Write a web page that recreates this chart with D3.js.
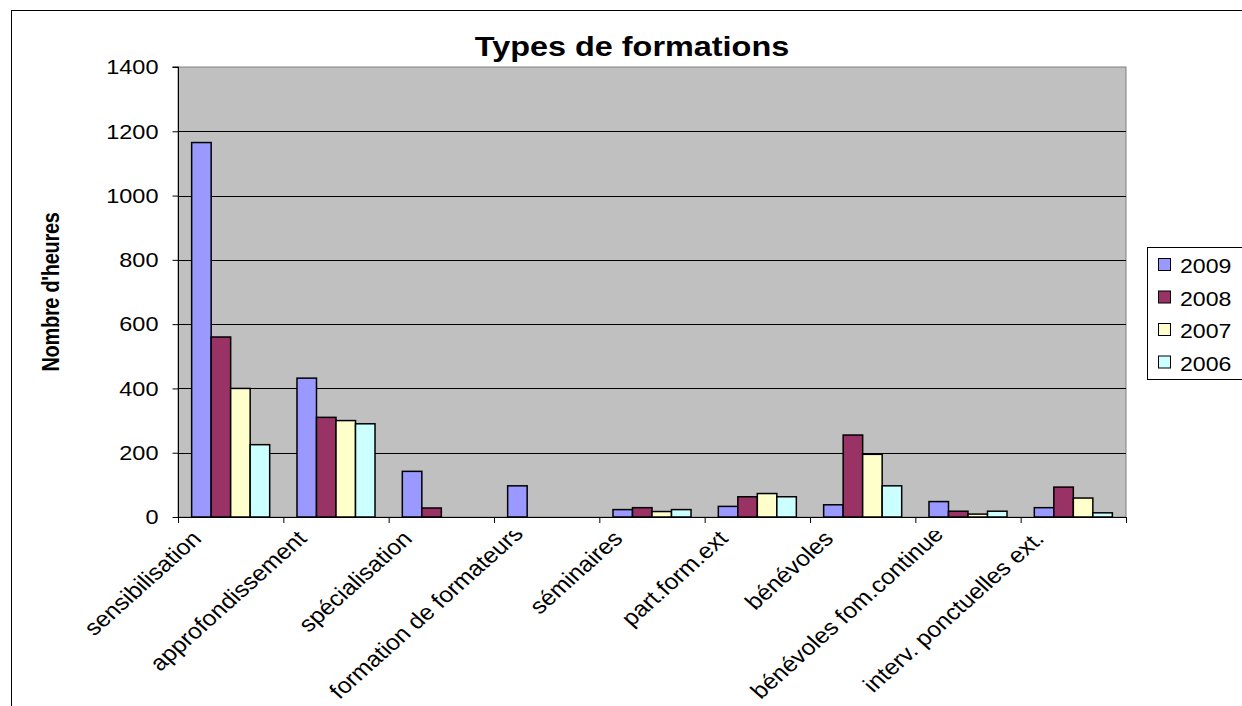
<!DOCTYPE html>
<html>
<head>
<meta charset="utf-8">
<script src="https://cdn.jsdelivr.net/npm/d3@7"></script>
<style>
  html, body { margin: 0; padding: 0; background: #fff; }
  svg text { font-family: Arial, "Liberation Sans", sans-serif; fill: #000; }
</style>
</head>
<body>
<svg id="chart" width="1242" height="706"></svg>
<script>
// Heures de formation par type et par année
const categories = ["sensibilisation", "approfondissement", "spécialisation", "formation de formateurs",
  "séminaires", "part.form.ext", "bénévoles", "bénévoles fom.continue", "interv. ponctuelles ext."];
const years = ["2009", "2008", "2007", "2006"];
const values2009 = [1165, 432, 142, 97, 23, 33, 38, 48, 29];
const values2008 = [560, 310, 28, 0, 29, 63, 255, 18, 93];
const values2007 = [400, 300, 0, 0, 17, 73, 195, 9, 59];
const values2006 = [225, 290, 0, 0, 23, 63, 97, 18, 13];
const yTicks = [0, 200, 400, 600, 800, 1000, 1200, 1400];
const colors = ["#9999FF", "#993366", "#FFFFCC", "#CCFFFF"];

const series = [values2009, values2008, values2007, values2006];
const rows = categories.map((c, i) => ({ cat: c, vals: series.map(s => s[i]) }));

const svg = d3.select("#chart");
const plot = { left: 178, right: 1126, top: 67, bottom: 517 };
const sx = 1.12; // horizontal text stretch

// chart frame
svg.append("rect").attr("x", 11.5).attr("y", 10.5).attr("width", 1240).attr("height", 720)
  .attr("fill", "#fff").attr("stroke", "#000").attr("stroke-width", 1);

const x = d3.scaleBand().domain(categories).range([plot.left, plot.right]).paddingInner(0).paddingOuter(0);
const xs = d3.scaleBand().domain(years).range([0, x.bandwidth()]).paddingInner(0).paddingOuter(0.7);
const y = d3.scaleLinear().domain([0, 1400]).range([plot.bottom, plot.top]);

// plot background
svg.append("rect").attr("x", plot.left).attr("y", plot.top)
  .attr("width", plot.right - plot.left).attr("height", plot.bottom - plot.top)
  .attr("fill", "#C0C0C0").attr("stroke", "#808080").attr("stroke-width", 1);

// gridlines
svg.append("g").selectAll("line").data(yTicks.filter(t => t > 0 && t < 1400)).join("line")
  .attr("x1", plot.left).attr("x2", plot.right)
  .attr("y1", d => Math.round(y(d)) + 0.5).attr("y2", d => Math.round(y(d)) + 0.5)
  .attr("stroke", "#000").attr("stroke-width", 1);

// bars
const groups = svg.append("g").selectAll("g").data(rows).join("g")
  .attr("transform", d => `translate(${x(d.cat)},0)`);
groups.selectAll("rect").data(d => d.vals.map((v, i) => ({ v, year: years[i], i })).filter(e => e.v > 0))
  .join("rect")
  .attr("x", d => xs(d.year))
  .attr("y", d => y(d.v))
  .attr("width", xs.bandwidth())
  .attr("height", d => y(0) - y(d.v))
  .attr("fill", d => colors[d.i])
  .attr("stroke", "#000").attr("stroke-width", 1.5);

// y axis
const yAxis = d3.axisLeft(y).tickValues(yTicks).tickSize(6).tickPadding(14).tickFormat(d3.format("d"));
const yg = svg.append("g").attr("transform", `translate(${plot.left + 0.5},0)`).call(yAxis);
yg.select(".domain").attr("stroke", "#000").attr("d", `M-6,${plot.top}H0V${plot.bottom}`);
yg.selectAll(".tick line").attr("stroke", "#000");
yg.selectAll(".tick text").attr("font-size", 21).attr("font-family", "Arial, 'Liberation Sans', sans-serif")
  .attr("fill", "#000").attr("transform", `scale(${sx},1)`);
yg.selectAll(".tick text").each(function () {
  const t = d3.select(this);
  t.attr("x", +t.attr("x") / sx);
});

// x axis line and ticks between categories
const xg = svg.append("g");
xg.append("line").attr("x1", plot.left).attr("x2", plot.right)
  .attr("y1", plot.bottom + 0.5).attr("y2", plot.bottom + 0.5).attr("stroke", "#000");
xg.selectAll("line.tk").data(categories.concat(["_end"])).join("line").attr("class", "tk")
  .attr("x1", (d, i) => plot.left + i * x.step() + 0.5).attr("x2", (d, i) => plot.left + i * x.step() + 0.5)
  .attr("y1", plot.bottom).attr("y2", plot.bottom + 6).attr("stroke", "#000");

// rotated category labels, clipped under the axis
svg.append("clipPath").attr("id", "lblclip").append("rect")
  .attr("x", 0).attr("y", 531).attr("width", 1242).attr("height", 200);
const lg = svg.append("g").attr("clip-path", "url(#lblclip)");
lg.selectAll("text").data(categories).join("text")
  .attr("font-size", 22)
  .attr("text-anchor", "end")
  .text(d => d)
  .each(function (d) {
    const L = this.getComputedTextLength();
    let ax = x(d) + x.bandwidth() / 2 - 28;
    let ay = 540;
    const startY = ay + L * 0.707;
    if (startY > 700) {
      const s = startY - 700;
      ax += s * sx; ay -= s;
    }
    d3.select(this).attr("transform", `translate(${ax},${ay}) scale(${sx},1) rotate(-45)`);
  });

// title
svg.append("text").attr("x", 0).attr("y", 0).attr("text-anchor", "middle")
  .attr("font-size", 27).attr("font-weight", "bold")
  .attr("transform", "translate(632,56) scale(1.2,1)")
  .text("Types de formations");

// y axis title
svg.append("text").attr("transform", "translate(59,292) scale(1.2,1) rotate(-90)")
  .attr("text-anchor", "middle").attr("font-size", 20).attr("font-weight", "bold")
  .attr("letter-spacing", -0.3)
  .text("Nombre d'heures");

// legend
const leg = svg.append("g");
leg.append("rect").attr("x", 1147.5).attr("y", 247.5).attr("width", 100).attr("height", 132)
  .attr("fill", "#fff").attr("stroke", "#000");
const li = leg.selectAll("g").data(years).join("g")
  .attr("transform", (d, i) => `translate(1158,${265 + i * 32.5})`);
li.append("rect").attr("x", 0.5).attr("y", -6.5).attr("width", 12).attr("height", 12)
  .attr("fill", (d, i) => colors[i]).attr("stroke", "#000");
li.append("text").attr("x", 0).attr("y", 0).attr("font-size", 21)
  .attr("transform", "translate(22,8) scale(1.1,1)")
  .text(d => d);
</script>
</body>
</html>
